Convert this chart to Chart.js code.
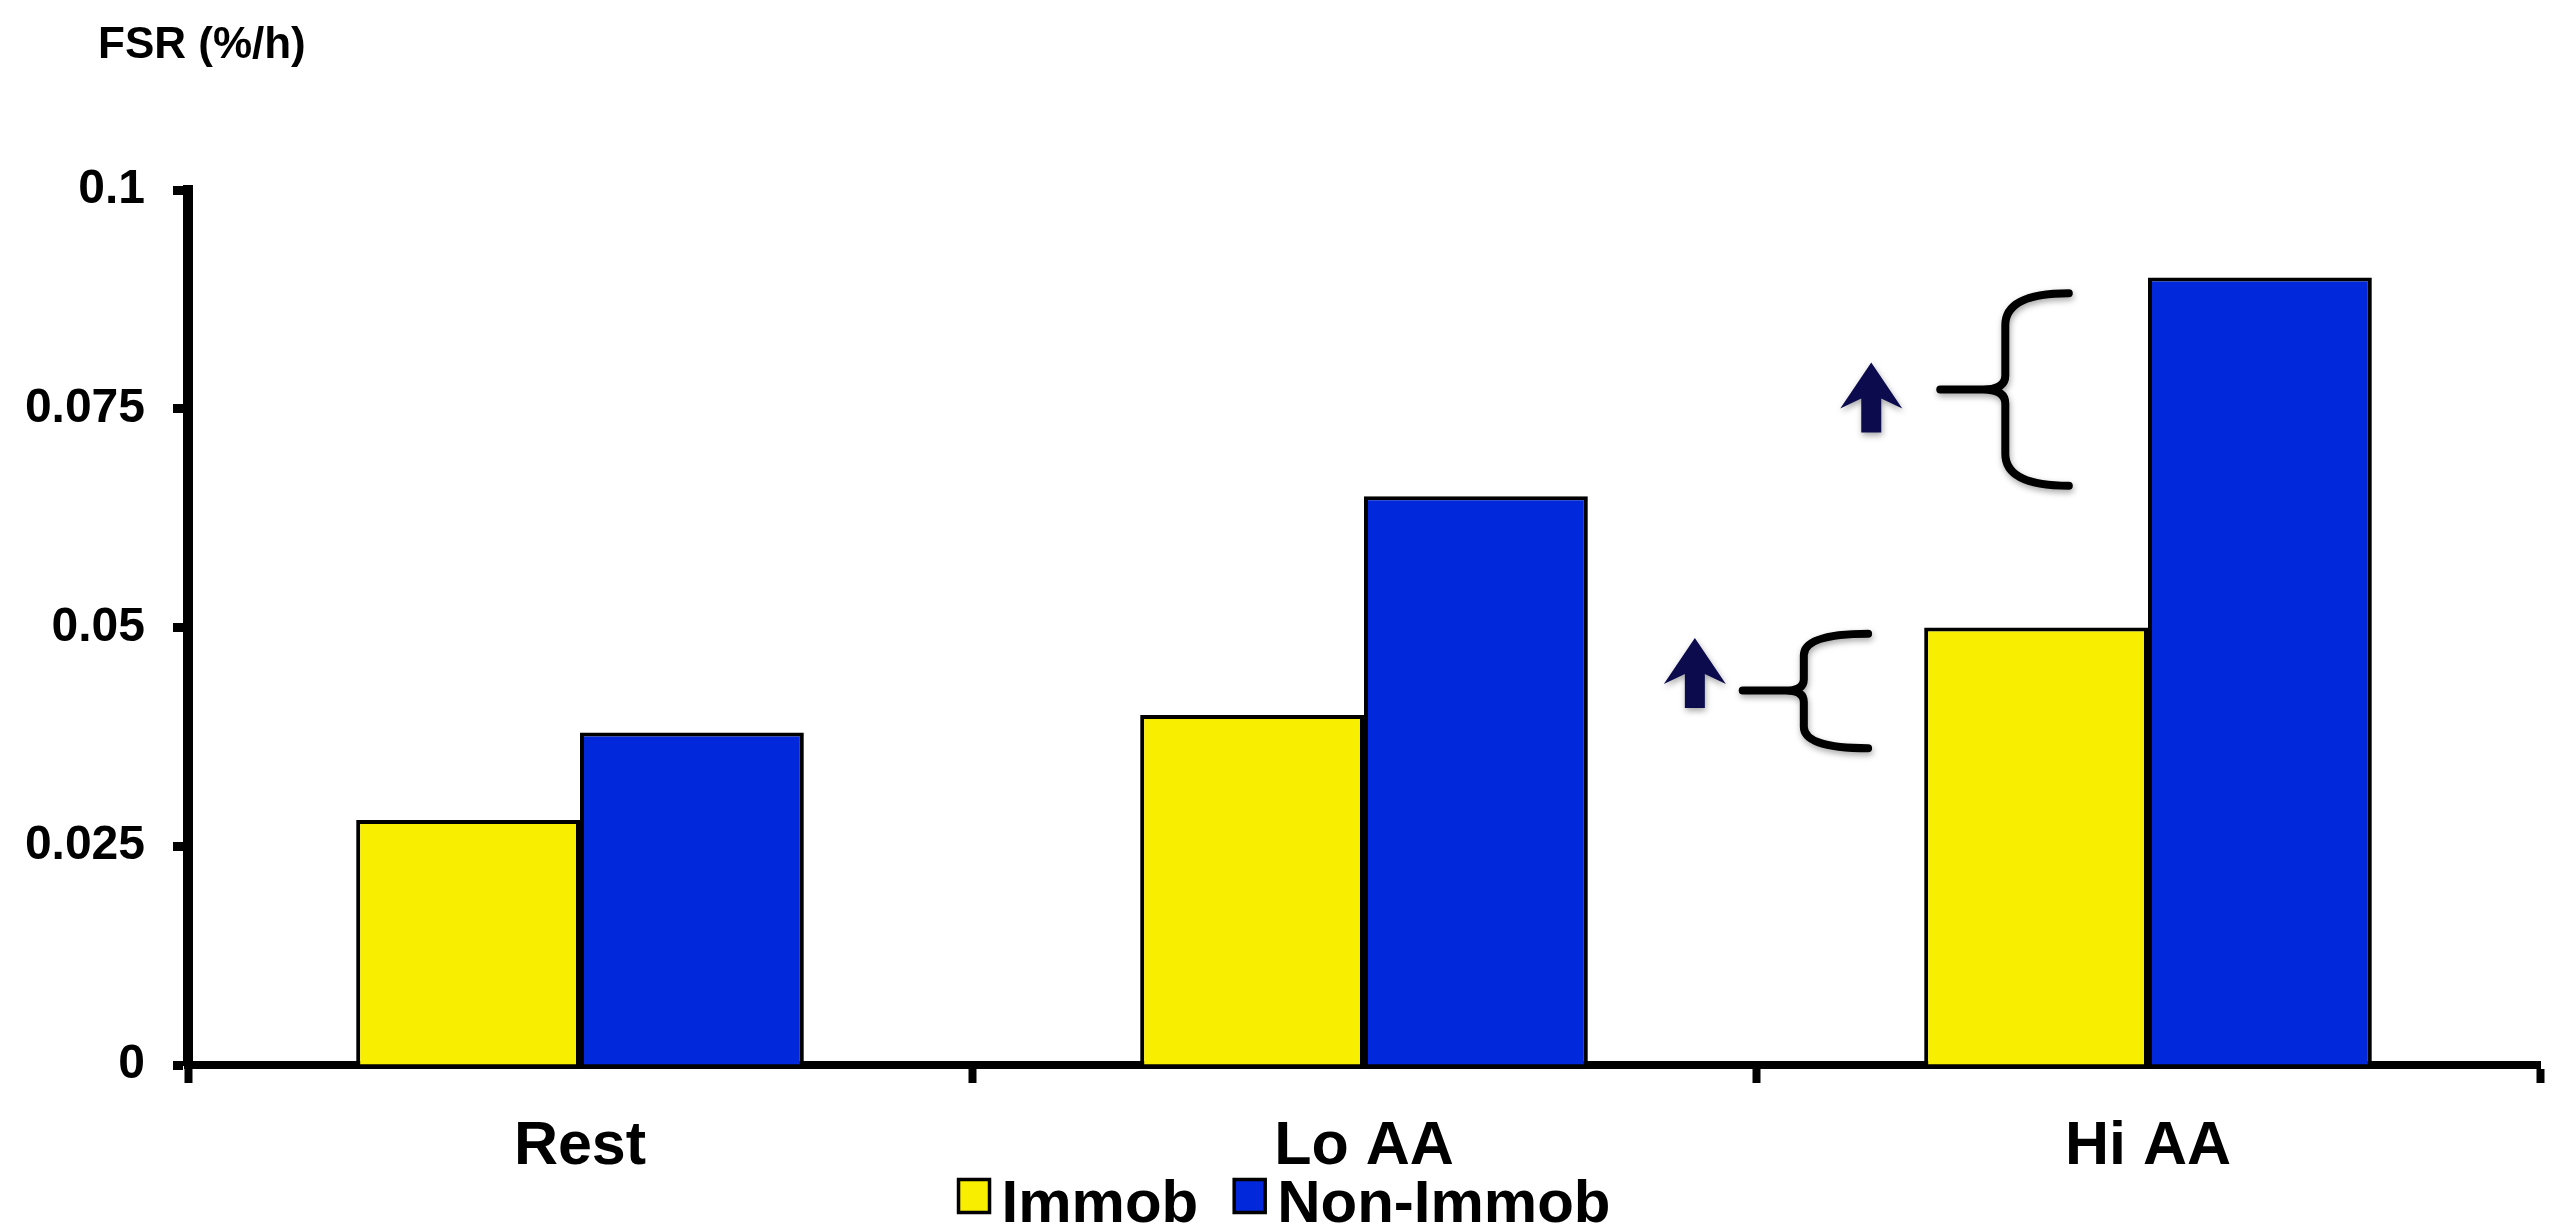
<!DOCTYPE html>
<html>
<head>
<meta charset="utf-8">
<script src="https://cdn.jsdelivr.net/npm/chart.js@4/dist/chart.umd.min.js"></script>
<style>
  html, body { margin: 0; padding: 0; background: #ffffff; overflow: hidden; }
  canvas { display: block; }
</style>
</head>
<body>
<canvas id="fsrChart" width="2569" height="1229"></canvas>
<script>
// Fractional synthetic rate by condition
const categories = ['Rest', 'Lo AA', 'Hi AA'];
const seriesNames = ['Immob', 'Non-Immob'];
const immobValues = [0.028, 0.040, 0.050];
const nonImmobValues = [0.038, 0.065, 0.090];
const yTickValues = [0, 0.025, 0.05, 0.075, 0.1];
const yTickLabels = ['0', '0.025', '0.05', '0.075', '0.1'];
const yAxisTitle = 'FSR (%/h)';

// Brace + arrow callouts beside the Hi AA bars (value span on y, offset in category widths on x)
const braceTops = [0.0882, 0.0493];
const braceMids = [0.0772, 0.0428];
const braceBottoms = [0.0662, 0.0362];
const braceEndX = [-0.101, -0.357];
const braceSpineX = [-0.182, -0.439];
const braceTipX = [-0.265, -0.517];
const arrowTips = [0.0803, 0.0488];
const arrowX = [-0.353, -0.578];

const FONT = '"Liberation Sans", Arial, Helvetica, sans-serif';

const titlePlugin = {
  id: 'axisTitleTopLeft',
  afterDraw(chart) {
    const ctx = chart.ctx;
    ctx.save();
    ctx.font = 'bold 44px ' + FONT;
    ctx.fillStyle = '#000';
    ctx.textAlign = 'left';
    ctx.textBaseline = 'alphabetic';
    ctx.fillText(yAxisTitle, 98, 58);
    ctx.restore();
  }
};

// Legend row under the category labels: box, tight gap, bold name
const legendPlugin = {
  id: 'bottomLegendRow',
  afterDraw(chart) {
    const ctx = chart.ctx;
    const fontSize = 60;
    const boxW = 31, boxH = 33, textGap = 12, itemGap = 36;
    ctx.save();
    ctx.font = 'bold ' + fontSize + 'px ' + FONT;
    const items = chart.data.datasets.map(ds => ({
      text: ds.label, fill: ds.backgroundColor, w: ctx.measureText(ds.label).width
    }));
    let total = 0;
    items.forEach((it, i) => { total += boxW + textGap + it.w + (i ? itemGap : 0); });
    let x = chart.width / 2 - total / 2;
    const textMid = chart.chartArea.bottom + 136;
    const capH = fontSize * 0.716;
    items.forEach((it, i) => {
      if (i) x += itemGap;
      const by = textMid - 5 - boxH / 2;
      ctx.fillStyle = it.fill;
      ctx.fillRect(x, by, boxW, boxH);
      ctx.lineWidth = 3.5;
      ctx.strokeStyle = '#000';
      ctx.strokeRect(x, by, boxW, boxH);
      x += boxW + textGap;
      ctx.fillStyle = '#000';
      ctx.textAlign = 'left';
      ctx.textBaseline = 'alphabetic';
      ctx.fillText(it.text, x, textMid + capH / 2);
      x += it.w;
    });
    ctx.restore();
  }
};

const calloutPlugin = {
  id: 'braceCallouts',
  afterDatasetsDraw(chart) {
    const { ctx } = chart;
    const xs = chart.scales.x, ys = chart.scales.y;
    const cw = xs.getPixelForValue(1) - xs.getPixelForValue(0);
    const cx = xs.getPixelForValue(2);
    ctx.save();
    ctx.shadowColor = 'rgba(0,0,0,0.35)';
    ctx.shadowBlur = 6;
    ctx.shadowOffsetX = 1;
    ctx.shadowOffsetY = 3;

    for (let i = 0; i < braceTops.length; i++) {
      const xe = cx + braceEndX[i] * cw;
      const xsp = cx + braceSpineX[i] * cw;
      const xt = cx + braceTipX[i] * cw;
      const yt = ys.getPixelForValue(braceTops[i]);
      const ym = ys.getPixelForValue(braceMids[i]);
      const yb = ys.getPixelForValue(braceBottoms[i]);
      const r = Math.min(32, (ym - yt) * 0.38);
      const r2 = Math.min(14, (ym - yt) * 0.2);
      ctx.beginPath();
      ctx.moveTo(xe, yt);
      ctx.quadraticCurveTo(xsp, yt, xsp, yt + r);
      ctx.lineTo(xsp, ym - r2);
      ctx.quadraticCurveTo(xsp, ym, xsp - r2 * 1.6, ym);
      ctx.lineTo(xt, ym);
      ctx.moveTo(xsp - r2 * 1.6, ym);
      ctx.quadraticCurveTo(xsp, ym, xsp, ym + r2);
      ctx.lineTo(xsp, yb - r);
      ctx.quadraticCurveTo(xsp, yb, xe, yb);
      ctx.lineWidth = 8;
      ctx.lineCap = 'round';
      ctx.lineJoin = 'round';
      ctx.strokeStyle = '#000';
      ctx.stroke();
    }

    for (let i = 0; i < arrowTips.length; i++) {
      const ax = cx + arrowX[i] * cw;
      const ay = ys.getPixelForValue(arrowTips[i]);
      ctx.beginPath();
      ctx.moveTo(ax, ay);
      ctx.lineTo(ax + 31, ay + 46);
      ctx.lineTo(ax + 10, ay + 36);
      ctx.lineTo(ax + 10, ay + 70);
      ctx.lineTo(ax - 10, ay + 70);
      ctx.lineTo(ax - 10, ay + 36);
      ctx.lineTo(ax - 31, ay + 46);
      ctx.closePath();
      ctx.fillStyle = '#0b0b4e';
      ctx.fill();
    }
    ctx.restore();
  }
};

new Chart(document.getElementById('fsrChart'), {
  type: 'bar',
  data: {
    labels: categories,
    datasets: [
      {
        label: seriesNames[0],
        data: immobValues,
        backgroundColor: '#f8ee00',
        borderColor: '#000',
        borderWidth: 4,
        barPercentage: 1.0,
        categoryPercentage: 0.571
      },
      {
        label: seriesNames[1],
        data: nonImmobValues,
        backgroundColor: '#0228dc',
        borderColor: '#000',
        borderWidth: 4,
        barPercentage: 1.0,
        categoryPercentage: 0.571
      }
    ]
  },
  options: {
    responsive: false,
    animation: false,
    devicePixelRatio: 1,
    layout: { padding: { top: 190, right: 29, bottom: 0, left: 0 } },
    plugins: {
      tooltip: { enabled: false },
      title: { display: false },
      legend: { display: false }
    },
    scales: {
      x: {
        offset: true,
        border: { display: true, color: '#000', width: 8 },
        grid: {
          display: true,
          offset: true,
          drawOnChartArea: false,
          drawTicks: true,
          tickLength: 18,
          tickWidth: 8,
          tickColor: '#000'
        },
        ticks: {
          color: '#000',
          font: { family: FONT, size: 61, weight: 'bold' },
          padding: 28,
          maxRotation: 0
        },
        afterFit(scale) { scale.height = 164; }
      },
      y: {
        min: 0,
        max: 0.1,
        border: { display: true, color: '#000', width: 10 },
        grid: {
          display: true,
          drawOnChartArea: false,
          drawTicks: true,
          tickLength: 15,
          tickWidth: 9,
          tickColor: '#000'
        },
        afterBuildTicks(scale) {
          scale.ticks = yTickValues.map(v => ({ value: v }));
        },
        ticks: {
          color: '#000',
          font: { family: FONT, size: 48, weight: 'bold' },
          padding: 28,
          callback(value, index) { return yTickLabels[index]; }
        },
        afterFit(scale) { scale.width = 188; }
      }
    }
  },
  plugins: [titlePlugin, legendPlugin, calloutPlugin]
});
</script>
</body>
</html>
